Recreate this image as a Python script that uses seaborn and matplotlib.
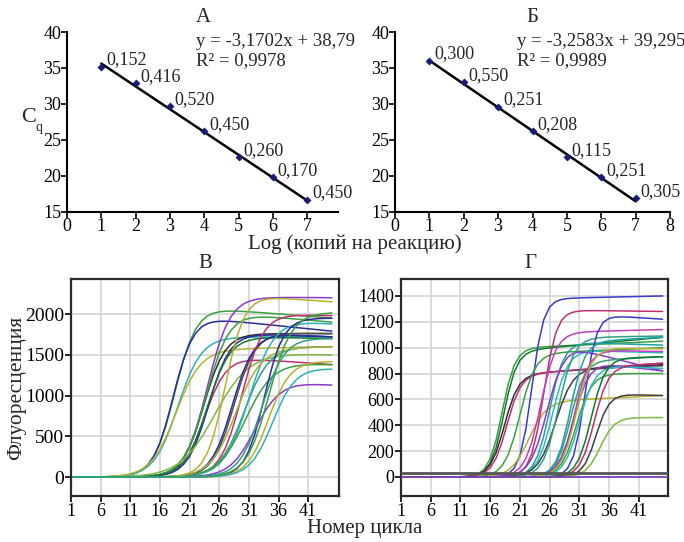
import numpy as np
import pandas as pd
import matplotlib
matplotlib.use("Agg")
import matplotlib.pyplot as plt
import seaborn as sns

sns.set_theme(style="white")
plt.rcParams['font.family'] = ['Liberation Serif', 'DejaVu Serif']
plt.rcParams['mathtext.fontset'] = 'stix'

# ---------------- data ----------------
log_copies = [1, 2, 3, 4, 5, 6, 7]
cq_a = [35.2, 32.9, 29.7, 26.2, 22.6, 19.8, 16.7]
cq_b = [36.0, 33.0, 29.6, 26.2, 22.6, 19.8, 16.9]
sd_a = ["0,152", "0,416", "0,520", "0,450", "0,260", "0,170", "0,450"]
sd_b = ["0,300", "0,550", "0,251", "0,208", "0,115", "0,251", "0,305"]
fit_a = (-3.1702, 38.79)
fit_b = (-3.2583, 39.295)
eq_a = ["y = -3,1702x + 38,79", "R² = 0,9978"]
eq_b = ["y = -3,2583x + 39,295", "R² = 0,9989"]

cycles = np.arange(1, 46)
# amplification curves: midpoint cycle, steepness, plateau, final value, colour
v_mid = [18.5, 18.2, 19.0, 18.7, 24.0, 23.4, 23.8, 23.5, 24.2, 24.0, 25.2,
         27.0, 28.5, 28.2, 29.8, 30.2, 31.0, 30.4, 28.8,
         33.6, 32.0, 34.3, 35.0, 34.4, 33.2]
v_s = [1.8, 1.7, 2.0, 2.1, 1.9, 1.8, 1.9, 1.8, 1.8, 1.9, 2.9,
       1.6, 1.8, 1.8, 1.8, 2.1, 2.1, 2.3, 2.1,
       1.6, 2.1, 1.8, 1.9, 1.9, 1.9]
v_plat = [2070, 1950, 1720, 1570, 2210, 1760, 2000, 1460, 1760, 1720, 1520,
          2220, 1770, 1760, 2000, 1600, 1920, 1400, 1580,
          1950, 1160, 1420, 1340, 2020, 1710]
v_final = [1950, 1790, 1720, 1600, 2200, 1760, 1900, 1380, 1720, 1700, 1500,
           2150, 1760, 1720, 1980, 1600, 1880, 1380, 1600,
           1950, 1130, 1420, 1330, 2020, 1700]
v_col = ['#3aa040', '#2a2a9a', '#30b0b8', '#b8b030', '#8a3acc', '#303030', '#3aa040',
         '#c03070', '#2a2a9a', '#107a30', '#80b840',
         '#b8b030', '#505050', '#2a2a9a', '#c03070', '#30a080', '#30b0b8', '#3aa040', '#a8b040',
         '#2a2a9a', '#8a3acc', '#b8b030', '#30b0b8', '#3aa040', '#30a080']

g_mid = [18.0, 18.3, 18.4, 18.8, 23.0, 22.5, 21.0, 25.0, 24.5, 26.0, 26.5, 25.5, 27.0, 27.5,
         31.9, 29.5, 29.5, 30.2, 30.0, 30.5, 31.0, 30.5,
         33.8, 34.5, 33.5, 33.0]
g_s = [1.1, 1.1, 1.2, 1.2, 1.0, 1.5, 1.3, 1.1, 1.3, 1.2, 1.3, 1.4, 1.5, 1.3,
       1.0, 1.2, 1.2, 1.2, 1.3, 1.3, 1.3, 1.3,
       1.1, 1.2, 1.2, 1.2]
g_plat = [1000, 980, 800, 800, 1380, 590, 960, 1290, 1120, 1040, 980, 1000, 850, 1080,
          1250, 900, 1050, 980, 880, 800, 860, 1000,
          640, 460, 860, 920]
g_final = [1050, 1080, 870, 880, 1400, 630, 1000, 1280, 1140, 1020, 960, 820, 860, 1090,
           1220, 930, 1080, 970, 820, 800, 840, 990,
           630, 460, 880, 930]
g_col = ['#3aa040', '#107a30', '#303030', '#c03070', '#3a3acc', '#b8b030', '#3aa040',
         '#c03070', '#c040c0', '#20a0a0', '#30b8c8', '#8a3acc', '#404040', '#30a080',
         '#3a3acc', '#30a080', '#20a0a0', '#c040c0', '#8a3acc', '#3aa040', '#30b8c8', '#b8b030',
         '#404040', '#80b840', '#c03070', '#107a30']

v_yticks = [0, 500, 1000, 1500, 2000]
g_yticks = [0, 200, 400, 600, 800, 1000, 1200, 1400]
cycle_ticks = [1, 6, 11, 16, 21, 26, 31, 36, 41]


def curves_frame(mid, s, plat, final):
    rows = []
    for i, (m, k, p, f) in enumerate(zip(mid, s, plat, final)):
        sig = 1.0 / (1.0 + np.exp(-(cycles - m) / k))
        start = m + 3 * k
        drift = np.clip((cycles - start) / (45 - start), 0, 1)
        y = sig * (p + (f - p) * drift)
        rows.append(pd.DataFrame({"cycle": cycles, "fl": y, "curve": i}))
    return pd.concat(rows, ignore_index=True)


W, H = 684, 542
fig = plt.figure(figsize=(W / 100, H / 100), dpi=100)


def ax_px(l, t, r, b):
    return fig.add_axes([l / W, 1 - b / H, (r - l) / W, (b - t) / H])


FS_T = 13
FS_L = 15


def std_panel(ax, x, y, labels, fit, eq, xmax, xt, eqx):
    df = pd.DataFrame({"x": x, "y": y})
    xl = np.array([x[0], x[-1]])
    sns.lineplot(x=xl, y=fit[0] * xl + fit[1], ax=ax, color='black', lw=1.8)
    sns.scatterplot(data=df, x="x", y="y", ax=ax, marker='D', s=14, color='#1a1a7a',
                    edgecolor='#1a1a7a', zorder=5)
    for xi, yi, lab in zip(x, y, labels):
        ax.annotate(lab, (xi, yi), xytext=(3.5, 5), textcoords='offset points',
                    ha='left', va='center', fontsize=FS_T, annotation_clip=False)
    ax.set_xlim(0, xmax)
    ax.set_ylim(15, 40)
    ax.set_xticks(xt)
    ax.set_yticks([15, 20, 25, 30, 35, 40])
    for sp in ['top', 'right']:
        ax.spines[sp].set_visible(False)
    for sp in ['left', 'bottom']:
        ax.spines[sp].set_color('black')
        ax.spines[sp].set_linewidth(1.5)
    ax.tick_params(axis='both', direction='out', length=4, width=1.2, labelsize=FS_T,
                   pad=0, colors='black', left=True, bottom=True)
    ax.set_xlabel("")
    ax.set_ylabel("")
    ax.text(eqx, 0.945, eq[0], transform=ax.transAxes, fontsize=13.5, va='center')
    ax.text(eqx, 0.84, eq[1], transform=ax.transAxes, fontsize=13.5, va='center')


axA = ax_px(67, 32, 338, 212)
std_panel(axA, log_copies, cq_a, sd_a, fit_a, eq_a, 7.9, range(0, 8), 0.476)
axB = ax_px(395, 32, 670, 212)
std_panel(axB, log_copies, cq_b, sd_b, fit_b, eq_b, 8, range(0, 9), 0.444)


def amp_panel(ax, df, cols, ylim, xmax, yticks, ylab_fs):
    pal = {i: c for i, c in enumerate(cols)}
    ax.grid(True, color='#d4d4d4', lw=1.2)
    ax.set_axisbelow(True)
    sns.lineplot(data=df, x="cycle", y="fl", hue="curve", palette=pal, ax=ax,
                 legend=False, lw=1.1, estimator=None, sort=False)
    ax.set_xlim(1, xmax)
    ax.set_ylim(*ylim)
    ax.set_xticks(cycle_ticks)
    ax.set_yticks(yticks)
    for sp in ax.spines.values():
        sp.set_color('#2a2a2a')
        sp.set_linewidth(1.6)
        sp.set_visible(True)
    ax.tick_params(axis='both', direction='out', length=4, width=1.2, labelsize=FS_T,
                   pad=1, colors='black', left=True, bottom=True)
    ax.tick_params(axis='y', labelsize=ylab_fs)
    ax.set_xlabel("")
    ax.set_ylabel("")


axV = ax_px(71, 279, 339, 496)
amp_panel(axV, curves_frame(v_mid, v_s, v_plat, v_final), v_col, (-233, 2430), 46.2,
          v_yticks, 14)
axG = ax_px(401, 279, 668, 496)
axG.axhline(30, color='#555555', lw=2, zorder=3)
axG.axhline(0, color='#8040c0', lw=1.3, zorder=3)
amp_panel(axG, curves_frame(g_mid, g_s, g_plat, g_final), g_col, (-147, 1531), 45.9,
          g_yticks, 13)

# titles and labels
def ftext(x, y, s, **kw):
    fig.text(x / W, 1 - y / H, s, **kw)

ftext(203, 17, "А", fontsize=FS_L, ha='center', va='center')
ftext(532, 17, "Б", fontsize=FS_L, ha='center', va='center')
ftext(205, 263, "В", fontsize=FS_L, ha='center', va='center')
ftext(530, 263, "Г", fontsize=FS_L, ha='center', va='center')
ftext(355, 244, "Log (копий на реакцию)", fontsize=FS_L, ha='center', va='center')
ftext(29, 117, "C", fontsize=16, ha='center', va='center')
ftext(39, 127, "q", fontsize=10, ha='center', va='center')
ftext(17, 388, "Флуоресценция", fontsize=15.5, ha='center', va='center', rotation=90)
ftext(365, 528, "Номер цикла", fontsize=FS_L, ha='center', va='center')

fig.savefig("out.png", dpi=100, facecolor='white')
